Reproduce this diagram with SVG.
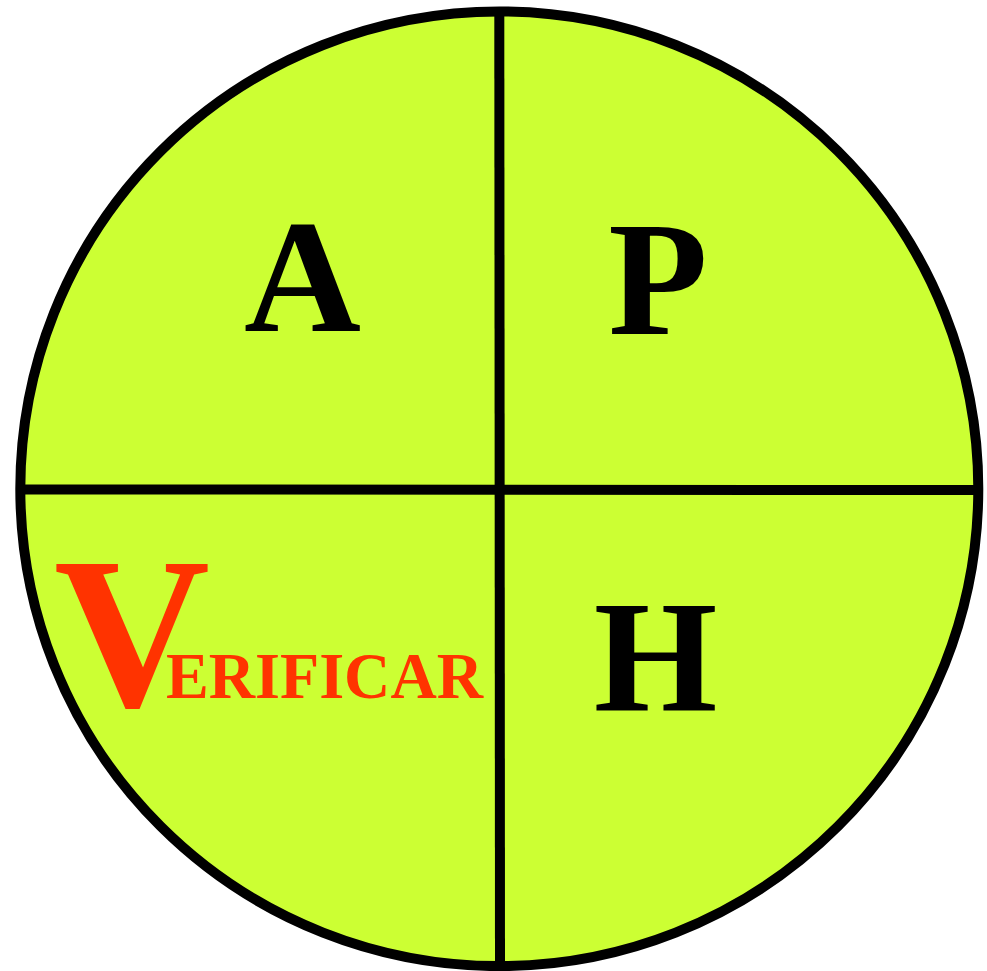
<svg xmlns="http://www.w3.org/2000/svg" width="987" height="971" viewBox="0 0 987 971">
<style>
.big{font-family:"Liberation Serif","Times New Roman",serif;font-weight:bold;fill:#000;}
.red{font-family:"Liberation Serif","Times New Roman",serif;font-weight:bold;fill:#FF3300;}
.ln{stroke:#000;stroke-width:10;fill:none;}
</style>
<rect width="987" height="971" fill="#fff"/>
<g id="circle">
<ellipse cx="499.3" cy="488.8" rx="479" ry="477.3" fill="#CCFF33" stroke="#000" stroke-width="10"/>
</g>
<g id="connectors">
<line class="ln" x1="499.3" y1="12" x2="500" y2="966"/>
<line class="ln" x1="20" y1="489.5" x2="978" y2="490"/>
</g>
<g id="node-A"><text class="big" x="302.5" y="331" font-size="162" text-anchor="middle">A</text></g>
<g id="node-P"><text class="big" x="658" y="334" font-size="163" text-anchor="middle">P</text></g>
<g id="node-V"><text class="red" x="54" y="706" font-size="216">V</text><text class="red" x="166" y="698" font-size="66" textLength="317" lengthAdjust="spacingAndGlyphs">ERIFICAR</text></g>
<g id="node-H"><text class="big" x="655.5" y="710" font-size="159" text-anchor="middle">H</text></g>
</svg>
